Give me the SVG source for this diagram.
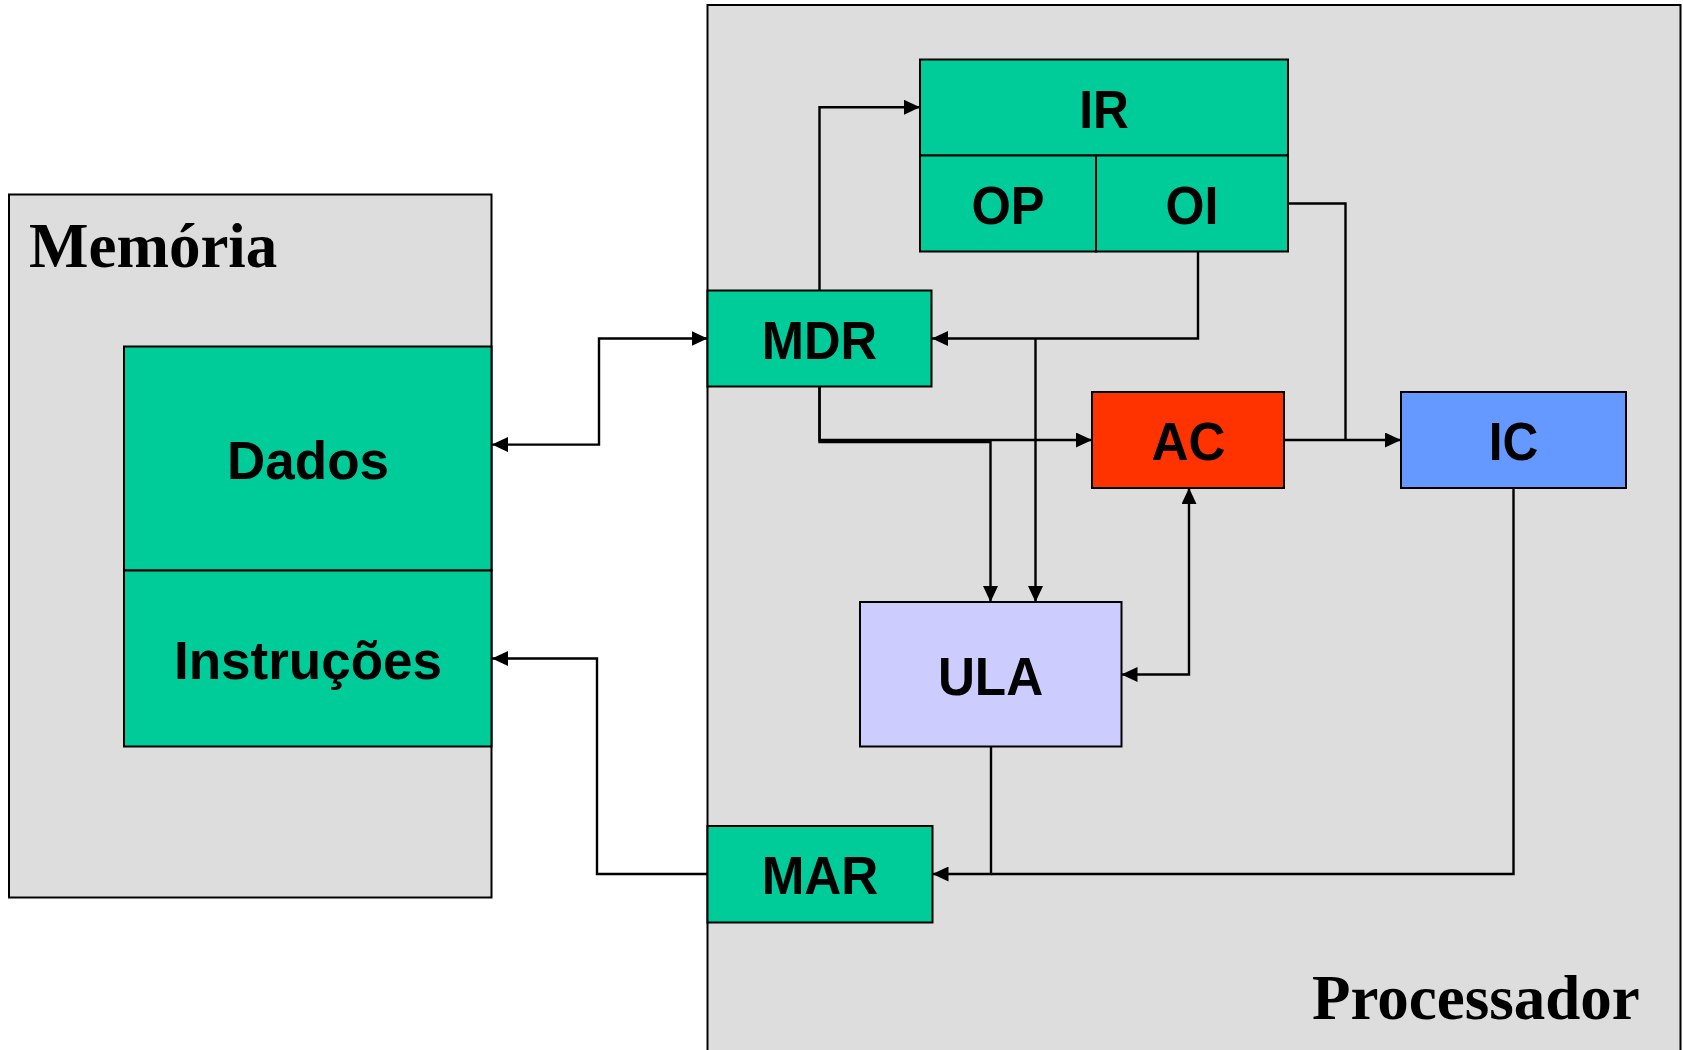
<svg xmlns="http://www.w3.org/2000/svg" width="1683" height="1050" viewBox="0 0 1683 1050">
<style>
.box{stroke:#000;stroke-width:2}
.area{fill:#DDDDDD;stroke:#000;stroke-width:2}
.green{fill:#00CC99}
.title{font-family:"Liberation Serif","Times New Roman",serif;font-weight:bold;font-size:63px;fill:#000}
.lbl{font-family:"Liberation Sans",Arial,sans-serif;font-weight:bold;font-size:53px;fill:#000;text-anchor:middle}
.reg{font-family:"Liberation Sans",Arial,sans-serif;font-weight:bold;font-size:54.5px;fill:#000;text-anchor:middle}
.conn path{fill:none;stroke:#000;stroke-width:2.4}
</style>
<defs>
<marker id="ah" markerUnits="userSpaceOnUse" markerWidth="16" markerHeight="15" refX="16" refY="7.5" orient="auto-start-reverse" viewBox="0 0 16 15">
<path d="M0,0 L16,7.5 L0,15 Z" fill="#000"/>
</marker>
</defs>
<rect width="1683" height="1050" fill="#fff"/>
<g id="memoria">
<rect class="area" x="9" y="194.5" width="482.5" height="703"/>
<text class="title" x="29" y="267">Memória</text>
</g>
<g id="processador">
<rect class="area" x="707.5" y="5" width="973" height="1060"/>
<text class="title" x="1312" y="1019">Processador</text>
</g>
<g id="dados">
<rect class="box green" x="124" y="346.5" width="367.5" height="224"/>
<text class="lbl" x="308" y="479">Dados</text>
</g>
<g id="instrucoes">
<rect class="box green" x="124" y="570.5" width="367.5" height="176"/>
<text class="lbl" x="308" y="679">Instruções</text>
</g>
<g id="ir">
<rect class="box green" x="920" y="59.5" width="368" height="96"/>
<text class="reg" transform="translate(1104,128) scale(0.91,1)">IR</text>
</g>
<g id="op">
<rect class="box green" x="920" y="155.5" width="176" height="96"/>
<text class="reg" transform="translate(1008,223.5) scale(0.93,1)">OP</text>
</g>
<g id="oi">
<rect class="box green" x="1096" y="155.5" width="192" height="96"/>
<text class="reg" transform="translate(1192,223.5) scale(0.92,1)">OI</text>
</g>
<g id="mdr">
<rect class="box green" x="707.5" y="290.5" width="224" height="96"/>
<text class="reg" transform="translate(819.5,359) scale(0.93,1)">MDR</text>
</g>
<g id="ac">
<rect class="box" fill="#FF3300" x="1092" y="392" width="192" height="96"/>
<text class="reg" transform="translate(1188.5,460) scale(0.94,1)">AC</text>
</g>
<g id="ic">
<rect class="box" fill="#6699FF" x="1401" y="392" width="225" height="96"/>
<text class="reg" transform="translate(1513.5,460) scale(0.91,1)">IC</text>
</g>
<g id="ula">
<rect class="box" fill="#CCCCFF" x="860" y="602" width="261.5" height="144.5"/>
<text class="reg" transform="translate(990.5,694.5) scale(0.94,1)">ULA</text>
</g>
<g id="mar">
<rect class="box green" x="707.5" y="826" width="225" height="96.5"/>
<text class="reg" transform="translate(820,894) scale(0.94,1)">MAR</text>
</g>
<g id="connectors" class="conn">
<path d="M492,444.6 H599 V338.5 H707.5" marker-start="url(#ah)" marker-end="url(#ah)"/>
<path d="M707.5,874 H597 V658.5 H492" marker-end="url(#ah)"/>
<path d="M819.5,290.5 V107.3 H920" marker-end="url(#ah)"/>
<path d="M1198,251.5 V338.5 H932" marker-end="url(#ah)"/>
<path d="M1035.5,338.5 V602" marker-end="url(#ah)"/>
<path d="M819.5,386.5 V440 H1092" marker-end="url(#ah)"/>
<path d="M819.5,386.5 V442 H990.5 V602" marker-end="url(#ah)"/>
<path d="M1284,440 H1401" marker-end="url(#ah)"/>
<path d="M1288,203.5 H1345.5 V440"/>
<path d="M1121.5,674.5 H1189 V488" marker-start="url(#ah)" marker-end="url(#ah)"/>
<path d="M991,746.5 V874 H932.5" marker-end="url(#ah)"/>
<path d="M1513.5,488 V874 H991"/>
</g>
</svg>
